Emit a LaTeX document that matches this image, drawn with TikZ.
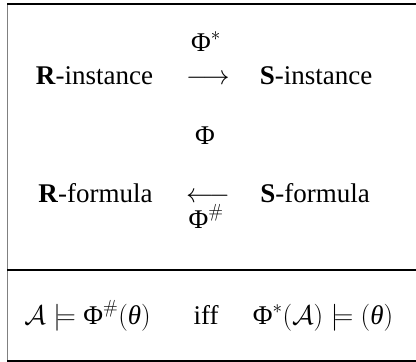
\RequirePackage{fix-cm}
\documentclass[tikz,border=0pt]{standalone}
\usepackage[no-math]{fontspec}
\setmainfont{Liberation Serif}
\DeclareMathSizes{27}{27}{19}{14}
\newcommand{\PhiG}{\mbox{\textup{Φ}}}
\newcommand{\thG}{\mbox{\textit{θ}}}
\begin{document}
\begin{tikzpicture}[x=1pt,y=-1pt,
  txt/.style={anchor=base,inner sep=0pt,font=\fontsize{27}{32}\selectfont},
  rule/.style={line width=1.2pt,black}]
\useasboundingbox (0,0) rectangle (416,362);
% frame
\draw[line width=1pt,gray] (7,4) -- (7,362);
\draw[rule] (7,4) -- (416,4);
\draw[rule] (7,270) -- (416,270);
\draw[rule] (7,361) -- (416,361);
% top block
\node[txt] (ri) at (94.5,84) {\textbf{R}-instance};
\node[txt] (ar1) at (208,84) {$\longrightarrow$};
\node[txt] (si) at (316,84) {\textbf{S}-instance};
\node[txt] (ps) at (206,51) {$\PhiG^{*}$};
\node[txt] (ph) at (205,144) {\PhiG};
\node[txt] (rf) at (95.5,202) {\textbf{R}-formula};
\node[txt] (ar2) at (208,202) {$\longleftarrow$};
\node[txt] (sf) at (315,202) {\textbf{S}-formula};
\node[txt] (ph2) at (206,228) {$\PhiG^{\#}$};
% bottom row
\node[txt] (l) at (87.5,324) {$\mathcal{A}\models\PhiG^{\#}(\thG)$};
\node[txt] (iff) at (206,324) {iff};
\node[txt] (r) at (323,324) {$\PhiG^{*}(\mathcal{A})\models(\thG)$};
\end{tikzpicture}
\end{document}
